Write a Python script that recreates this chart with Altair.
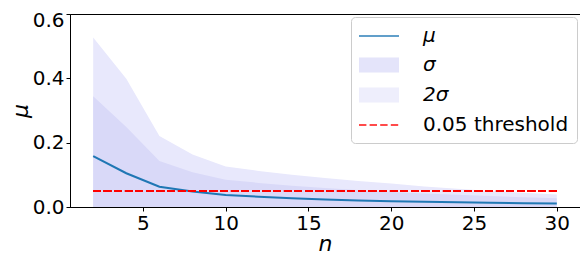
import altair as alt
import pandas as pd

# data
N = [2, 4, 6, 8, 10, 12, 14, 16, 18, 20, 22, 24, 26, 28, 30]
MU = [0.158, 0.105, 0.063, 0.048, 0.037, 0.032, 0.027, 0.023, 0.020, 0.018, 0.016, 0.015, 0.013, 0.012, 0.011]
UP1 = [0.344, 0.249, 0.143, 0.108, 0.085, 0.075, 0.066, 0.059, 0.053, 0.047, 0.042, 0.038, 0.034, 0.030, 0.027]
UP2 = [0.527, 0.399, 0.221, 0.163, 0.126, 0.112, 0.100, 0.090, 0.081, 0.073, 0.064, 0.057, 0.050, 0.044, 0.039]
THRESH = 0.05
X_TICKS = [5, 10, 15, 20, 25, 30]
Y_TICKS = [0.0, 0.2, 0.4, 0.6]
LEGEND_LABELS = ["μ", "σ", "2σ", "0.05 threshold"]

df = pd.DataFrame({"n": N, "mu": MU, "up1": UP1, "up2": UP2})
leg_df = pd.DataFrame({"label": LEGEND_LABELS, "n": [None] * 4, "v": [None] * 4})

C_LINE = "#1f77b4"
C_S1 = "#d9d9f8"
C_S2 = "#e8e8fc"
C_TH = "#ff0000"

xs = alt.Scale(domain=[0.6, 31.4], nice=False, zero=False)
ys = alt.Scale(domain=[0, 0.6], nice=False)

xax = alt.Axis(values=X_TICKS, title="n", titleFontStyle="italic", titleFontSize=22,
               titleFontWeight="normal", titlePadding=0, labelPadding=2)
yax = alt.Axis(values=Y_TICKS, format=".1f", title="μ", titleFontStyle="italic",
               titleFontSize=22, titleFontWeight="normal", titlePadding=0,
               labelOffset={"expr": "datum.value >= 0.59 ? 6 : 0"})

base = alt.Chart(df)

band2 = base.mark_area(color=C_S2).encode(
    x=alt.X("n:Q", scale=xs, axis=xax),
    y=alt.Y("up2:Q", scale=ys, axis=yax),
    y2=alt.datum(0),
)
band1 = base.mark_area(color=C_S1).encode(
    x=alt.X("n:Q", scale=xs),
    y=alt.Y("up1:Q", scale=ys),
    y2=alt.datum(0),
)
line = base.mark_line(color=C_LINE, strokeWidth=2).encode(
    x=alt.X("n:Q", scale=xs),
    y=alt.Y("mu:Q", scale=ys),
)
thr = alt.Chart(df).mark_rule(color=C_TH, strokeWidth=2, strokeDash=[7.4, 3.2]).encode(
    x=alt.datum(N[0]), x2=alt.datum(N[-1]), y=alt.datum(THRESH)
)

# legend symbol shapes (unit = 10px at symbol size 400)
line_path = "M-2,0H2"
patch_path = "".join("M-2,%.2fH2" % (-0.65 + i * 0.1) for i in range(14))
dash_path = "M-2,0H-1.26M-0.94,0H-0.2M0.12,0H0.86M1.18,0H1.92"

legend_layer = alt.Chart(leg_df).mark_point(filled=False, strokeWidth=2).encode(
    x=alt.X("n:Q", scale=xs),
    y=alt.Y("v:Q", scale=ys),
    color=alt.Color("label:N", scale=alt.Scale(domain=LEGEND_LABELS,
                                                range=[C_LINE, C_S1, C_S2, C_TH]),
                    legend=alt.Legend(title=None, orient="top-right")),
    shape=alt.Shape("label:N", scale=alt.Scale(domain=LEGEND_LABELS,
                                                range=[line_path, patch_path, patch_path, dash_path]),
                    legend=alt.Legend(title=None, orient="top-right")),
)

chart = alt.layer(band2, band1, line, thr, legend_layer).properties(
    width=510, height=193,
    autosize=alt.AutoSizeParams(type="none"),
    padding={"left": 62, "top": 6, "right": 0, "bottom": 49},
).configure(
    font="DejaVu Sans",
).configure_view(
    stroke="black", strokeWidth=1,
).configure_axis(
    grid=False, labelFontSize=20, labelColor="black", tickColor="black",
    domainColor="black", tickSize=4, titleColor="black",
).configure_legend(
    symbolSize=400, symbolStrokeWidth=2, labelFontSize=20, labelColor="black",
    labelFontStyle={"expr": "datum.label == '0.05 threshold' ? 'normal' : 'italic'"},
    strokeColor="#cccccc", cornerRadius=4, fillColor="white",
    padding=8, rowPadding=8, offset=3, labelOffset=33, symbolOffset=9,
)

chart.save("out.html", embed_options={"renderer": "svg", "actions": False})
